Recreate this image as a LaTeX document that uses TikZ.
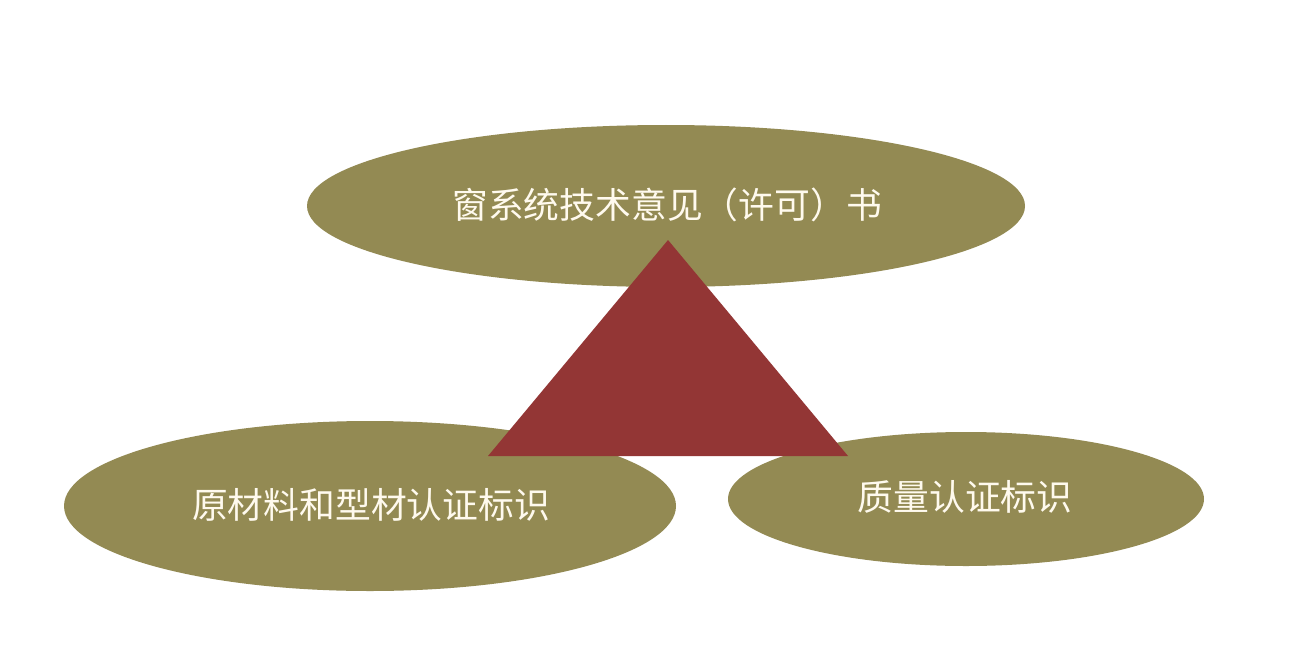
\documentclass[tikz,border=0pt]{standalone}
\usepackage{fontspec}
\newfontfamily\cjk{Noto Sans CJK SC}
\definecolor{olive}{HTML}{938A53}
\definecolor{tri}{HTML}{933635}
\definecolor{cream}{HTML}{FFFAEE}
\begin{document}
\begin{tikzpicture}[x=1pt,y=-1pt,
  blob/.style={fill=olive,draw=none},
  lbl/.style={text=cream,font=\cjk\fontsize{35.8}{42}\selectfont,inner sep=0pt}]
\useasboundingbox (0,0) rectangle (1311,666);
\fill[white] (0,0) rectangle (1311,666);
\fill[blob] (666,206) ellipse [x radius=359, y radius=81];
\fill[blob] (370,506) ellipse [x radius=306, y radius=85];
\fill[blob] (966,499) ellipse [x radius=238, y radius=67];
\coordinate (apex) at (668,240);
\coordinate (bl) at (488,456);
\coordinate (br) at (848,456);
\fill[tri] (apex) -- (bl) -- (br) -- cycle;
\node[lbl] (top) at (667,205) {窗系统技术意见（许可）书};
\node[lbl] (left) at (371,505) {原材料和型材认证标识};
\node[lbl] (right) at (965,497) {质量认证标识};
\end{tikzpicture}
\end{document}
